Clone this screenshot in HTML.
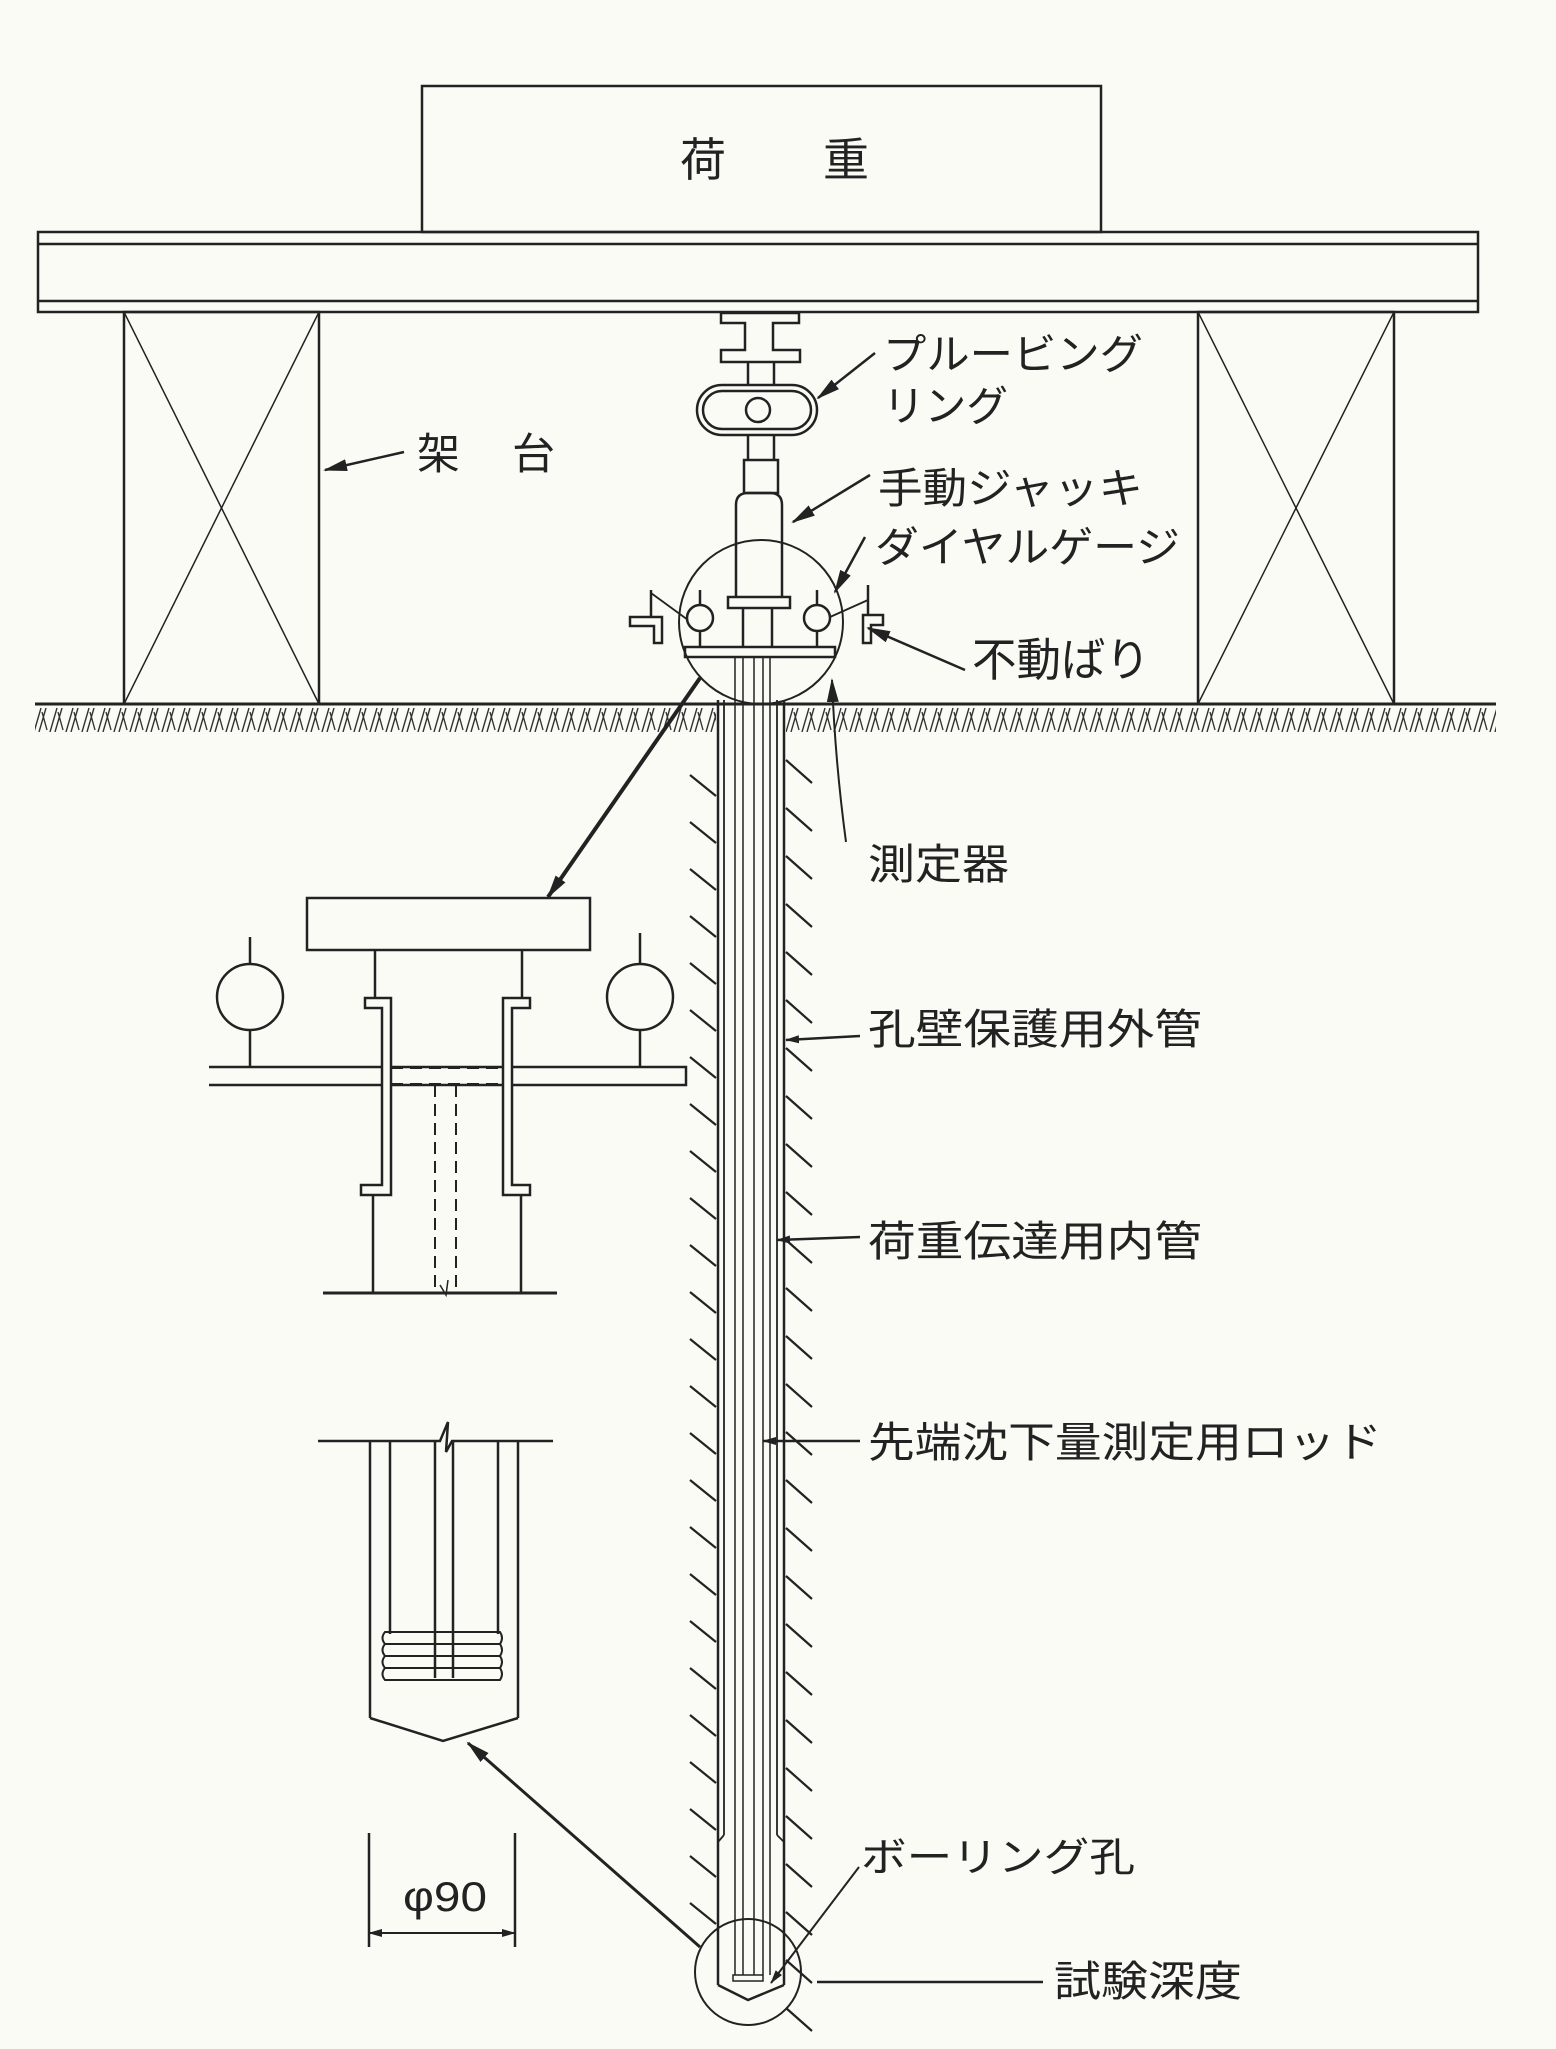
<!DOCTYPE html>
<html><head><meta charset="utf-8"><style>
html,body{margin:0;padding:0;background:#fbfbf6;}
svg{display:block}
text{font-family:"Liberation Sans","Noto Sans CJK JP",sans-serif;fill:#222;}
</style></head><body>
<svg width="1556" height="2049" viewBox="0 0 1556 2049" xmlns="http://www.w3.org/2000/svg">
<defs>
<marker id="ah" markerWidth="14" markerHeight="10" refX="13" refY="5" orient="auto" markerUnits="userSpaceOnUse">
<path d="M0,1 L14,5 L0,9 Z" fill="#222"/></marker>
<marker id="ahb" markerWidth="24" markerHeight="14" refX="22" refY="7" orient="auto" markerUnits="userSpaceOnUse">
<path d="M0,1 L24,7 L0,13 Z" fill="#222"/></marker>
<pattern id="gh" x="0" y="704" width="16" height="30" patternUnits="userSpaceOnUse">
<path d="M2,28 L9,4 M7,28 L14,4 M10,8 L15,26" stroke="#333" stroke-width="1.4" fill="none"/>
</pattern>
</defs>
<g stroke="#222" stroke-width="2.5" fill="none">
<rect x="422" y="86" width="679" height="146"/>
<rect x="38" y="232" width="1440" height="80"/>
<line x1="38" y1="244" x2="1478" y2="244"/>
<line x1="38" y1="301" x2="1478" y2="301"/>
<rect x="124" y="312" width="195" height="392"/>
<line x1="124" y1="312" x2="319" y2="704" stroke-width="1.5"/>
<line x1="319" y1="312" x2="124" y2="704" stroke-width="1.5"/>
<rect x="1198" y="312" width="196" height="392"/>
<line x1="1198" y1="312" x2="1394" y2="704" stroke-width="1.5"/>
<line x1="1394" y1="312" x2="1198" y2="704" stroke-width="1.5"/>
<line x1="35" y1="704" x2="1496" y2="704" stroke-width="3"/>
</g>
<rect x="35" y="706" width="1461" height="26" fill="url(#gh)"/>
<rect x="716" y="706" width="70" height="28" fill="#fbfbf6"/>
<g stroke="#222" stroke-width="2.5" fill="none">
<path d="M721,313 H799 V323 H773 V350 H800 V362 H721 V350 H745 V323 H721 Z"/>
<line x1="748" y1="362" x2="748" y2="385"/><line x1="774" y1="362" x2="774" y2="385"/>
<rect x="697" y="385" width="120" height="50" rx="25"/>
<rect x="703" y="391" width="108" height="38" rx="19"/>
<circle cx="758" cy="410" r="12"/>
<line x1="748" y1="435" x2="748" y2="460"/><line x1="774" y1="435" x2="774" y2="460"/>
<rect x="744" y="460" width="34" height="33"/>
<path d="M736,597 V505 Q736,493 748,493 H770 Q782,493 782,505 V597"/>
<rect x="728" y="597" width="62" height="11"/>
<line x1="743" y1="608" x2="743" y2="647"/><line x1="772" y1="608" x2="772" y2="647"/>
<circle cx="761" cy="622" r="82" stroke-width="2"/>
<circle cx="700" cy="618" r="13"/><circle cx="817" cy="618" r="13"/>
<line x1="700" y1="590" x2="700" y2="605"/><line x1="700" y1="631" x2="700" y2="647"/>
<line x1="817" y1="590" x2="817" y2="605"/><line x1="817" y1="631" x2="817" y2="647"/>
<rect x="685" y="647" width="150" height="10"/>
<line x1="651" y1="590" x2="651" y2="617"/>
<path d="M630,617 H662 V643 H654 V626 H630 Z"/>
<line x1="651" y1="593" x2="688" y2="620" stroke-width="1.8"/>
<line x1="868" y1="585" x2="868" y2="615"/>
<path d="M883,615 H863 V643 H871 V625 H883 Z"/>
<line x1="830" y1="617" x2="868" y2="600" stroke-width="1.8"/>
<line x1="718" y1="700" x2="718" y2="1985"/>
<line x1="784" y1="700" x2="784" y2="1985"/>
<line x1="724" y1="700" x2="724" y2="1835" stroke-width="1.8"/>
<line x1="777" y1="700" x2="777" y2="1835" stroke-width="1.8"/>
<path d="M724,1835 L718,1842 M777,1835 L784,1842" stroke-width="1.8"/>
<g stroke-width="1.5">
<line x1="735" y1="657" x2="735" y2="1975"/><line x1="743" y1="657" x2="743" y2="1975"/>
<line x1="754" y1="657" x2="754" y2="1975"/><line x1="763" y1="657" x2="763" y2="1975"/>
<line x1="770" y1="657" x2="770" y2="1975"/>
</g>
<rect x="733" y="1975" width="30" height="6" stroke-width="1.5"/>
<path d="M718,1985 L748,2000 L784,1985"/>
<circle cx="748" cy="1972" r="53" stroke-width="2"/>
</g>
<g stroke="#222" stroke-width="2.2">
<line x1="690" y1="775" x2="716" y2="796"/><line x1="690" y1="822" x2="716" y2="843"/><line x1="690" y1="869" x2="716" y2="890"/><line x1="690" y1="916" x2="716" y2="937"/><line x1="690" y1="963" x2="716" y2="984"/><line x1="690" y1="1010" x2="716" y2="1031"/><line x1="690" y1="1057" x2="716" y2="1078"/><line x1="690" y1="1104" x2="716" y2="1125"/><line x1="690" y1="1151" x2="716" y2="1172"/><line x1="690" y1="1198" x2="716" y2="1219"/><line x1="690" y1="1245" x2="716" y2="1266"/><line x1="690" y1="1292" x2="716" y2="1313"/><line x1="690" y1="1339" x2="716" y2="1360"/><line x1="690" y1="1386" x2="716" y2="1407"/><line x1="690" y1="1433" x2="716" y2="1454"/><line x1="690" y1="1480" x2="716" y2="1501"/><line x1="690" y1="1527" x2="716" y2="1548"/><line x1="690" y1="1574" x2="716" y2="1595"/><line x1="690" y1="1621" x2="716" y2="1642"/><line x1="690" y1="1668" x2="716" y2="1689"/><line x1="690" y1="1715" x2="716" y2="1736"/><line x1="690" y1="1762" x2="716" y2="1783"/><line x1="690" y1="1809" x2="716" y2="1830"/><line x1="690" y1="1856" x2="716" y2="1877"/><line x1="690" y1="1903" x2="716" y2="1924"/>
<line x1="786" y1="760" x2="812" y2="783"/><line x1="786" y1="808" x2="812" y2="831"/><line x1="786" y1="856" x2="812" y2="879"/><line x1="786" y1="904" x2="812" y2="927"/><line x1="786" y1="952" x2="812" y2="975"/><line x1="786" y1="1000" x2="812" y2="1023"/><line x1="786" y1="1048" x2="812" y2="1071"/><line x1="786" y1="1096" x2="812" y2="1119"/><line x1="786" y1="1144" x2="812" y2="1167"/><line x1="786" y1="1192" x2="812" y2="1215"/><line x1="786" y1="1240" x2="812" y2="1263"/><line x1="786" y1="1288" x2="812" y2="1311"/><line x1="786" y1="1336" x2="812" y2="1359"/><line x1="786" y1="1384" x2="812" y2="1407"/><line x1="786" y1="1432" x2="812" y2="1455"/><line x1="786" y1="1480" x2="812" y2="1503"/><line x1="786" y1="1528" x2="812" y2="1551"/><line x1="786" y1="1576" x2="812" y2="1599"/><line x1="786" y1="1624" x2="812" y2="1647"/><line x1="786" y1="1672" x2="812" y2="1695"/><line x1="786" y1="1720" x2="812" y2="1743"/><line x1="786" y1="1768" x2="812" y2="1791"/><line x1="786" y1="1816" x2="812" y2="1839"/><line x1="786" y1="1864" x2="812" y2="1887"/><line x1="786" y1="1912" x2="812" y2="1935"/><line x1="786" y1="1960" x2="812" y2="1983"/><line x1="786" y1="2008" x2="812" y2="2031"/>
</g>
<g stroke="#222" stroke-width="2.5" fill="none">
<rect x="307" y="898" width="283" height="52"/>
<line x1="375" y1="950" x2="375" y2="998"/><line x1="522" y1="950" x2="522" y2="998"/>
<path d="M365,998 H391 V1195 H361 V1185 H382 V1008 H365 Z"/>
<path d="M530,998 H503 V1195 H530 V1185 H512 V1008 H530 Z"/>
<line x1="373" y1="1195" x2="373" y2="1293"/><line x1="521" y1="1195" x2="521" y2="1293"/>
<circle cx="250" cy="997" r="33"/><circle cx="640" cy="997" r="33"/>
<line x1="250" y1="937" x2="250" y2="964"/><line x1="250" y1="1030" x2="250" y2="1067"/>
<line x1="640" y1="933" x2="640" y2="964"/><line x1="640" y1="1030" x2="640" y2="1067"/>
<path d="M209,1067 H382 M391,1067 H503 M512,1067 H686 V1085 H512 M503,1085 H391 M382,1085 H209 Z"/>
<g stroke-dasharray="12,7" stroke-width="2">
<line x1="391" y1="1068" x2="503" y2="1068"/><line x1="391" y1="1084" x2="503" y2="1084"/>
<line x1="435" y1="1085" x2="435" y2="1290"/><line x1="456" y1="1085" x2="456" y2="1290"/>
</g>
<line x1="323" y1="1293" x2="557" y2="1293" stroke-width="3"/>
<path d="M440,1285 L446,1295 L448,1280" stroke-width="1.5"/>
<path d="M318,1441 H440 L448,1422 L446,1452 L452,1441 H553" />
<line x1="370" y1="1441" x2="370" y2="1718"/><line x1="518" y1="1441" x2="518" y2="1718"/>
<line x1="390" y1="1441" x2="390" y2="1634"/><line x1="498" y1="1441" x2="498" y2="1634"/>
<line x1="435" y1="1441" x2="435" y2="1678"/><line x1="453" y1="1441" x2="453" y2="1678"/>
<path d="M370,1718 L443,1741 L518,1718"/>
<g stroke-width="2">
<path d="M385,1632 H500 Q504,1638 500,1644 H385 Q380,1638 385,1632 Z"/>
<path d="M385,1644 H500 Q504,1650 500,1656 H385 Q380,1650 385,1644 Z"/>
<path d="M385,1656 H500 Q504,1662 500,1668 H385 Q380,1662 385,1656 Z"/>
<path d="M385,1668 H500 Q504,1674 500,1680 H385 Q380,1674 385,1668 Z"/>
</g>
<line x1="369" y1="1833" x2="369" y2="1947"/><line x1="515" y1="1833" x2="515" y2="1947"/>
<line x1="390" y1="1933" x2="369" y2="1933" marker-end="url(#ah)" stroke-width="2"/>
<line x1="380" y1="1933" x2="515" y2="1933" marker-end="url(#ah)" stroke-width="2"/>
<line x1="700" y1="1947" x2="468" y2="1743" stroke-width="3" marker-end="url(#ahb)"/>
<line x1="700" y1="678" x2="548" y2="897" stroke-width="4" marker-end="url(#ahb)"/>
<line x1="404" y1="452" x2="325" y2="470" marker-end="url(#ahb)" stroke-width="2.5"/>
<line x1="875" y1="353" x2="818" y2="398" marker-end="url(#ahb)" stroke-width="2.5"/>
<line x1="870" y1="475" x2="793" y2="522" marker-end="url(#ahb)" stroke-width="2.5"/>
<line x1="865" y1="537" x2="835" y2="592" marker-end="url(#ahb)" stroke-width="2.5"/>
<line x1="965" y1="670" x2="868" y2="628" marker-end="url(#ahb)" stroke-width="2.5"/>
<path d="M846,842 Q835,760 832,680" marker-end="url(#ahb)" stroke-width="2"/>
<line x1="860" y1="1036" x2="786" y2="1040" marker-end="url(#ah)" stroke-width="2.5"/>
<line x1="860" y1="1237" x2="777" y2="1240" marker-end="url(#ah)" stroke-width="2.5"/>
<line x1="860" y1="1441" x2="763" y2="1441" marker-end="url(#ah)" stroke-width="2.5"/>
<line x1="859" y1="1867" x2="771" y2="1983" marker-end="url(#ah)" stroke-width="2"/>
<line x1="817" y1="1982" x2="1043" y2="1982" stroke-width="2.5"/>
</g>
<text x="680" y="176" font-size="46">荷</text>
<text x="823" y="176" font-size="46">重</text>
<text x="417" y="469" font-size="43">架</text>
<text x="512" y="469" font-size="43">台</text>
<text x="883" y="369" font-size="42" textLength="260" lengthAdjust="spacingAndGlyphs">プルービング</text>
<text x="883" y="421" font-size="42" textLength="125" lengthAdjust="spacingAndGlyphs">リング</text>
<text x="878" y="503" font-size="42" textLength="265" lengthAdjust="spacingAndGlyphs">手動ジャッキ</text>
<text x="875" y="562" font-size="42" textLength="305" lengthAdjust="spacingAndGlyphs">ダイヤルゲージ</text>
<text x="972" y="676" font-size="46" textLength="178" lengthAdjust="spacingAndGlyphs">不動ばり</text>
<text x="868" y="879" font-size="42" textLength="141" lengthAdjust="spacingAndGlyphs">測定器</text>
<text x="868" y="1044" font-size="42" textLength="334" lengthAdjust="spacingAndGlyphs">孔壁保護用外管</text>
<text x="868" y="1256" font-size="42" textLength="334" lengthAdjust="spacingAndGlyphs">荷重伝達用内管</text>
<text x="868" y="1457" font-size="42" textLength="514" lengthAdjust="spacingAndGlyphs">先端沈下量測定用ロッド</text>
<text x="861" y="1871" font-size="40" textLength="274" lengthAdjust="spacingAndGlyphs">ボーリング孔</text>
<text x="1054" y="1996" font-size="42" textLength="188" lengthAdjust="spacingAndGlyphs">試験深度</text>
<text x="403" y="1911" font-size="42" textLength="84" lengthAdjust="spacingAndGlyphs">φ90</text>
</svg>
</body></html>
